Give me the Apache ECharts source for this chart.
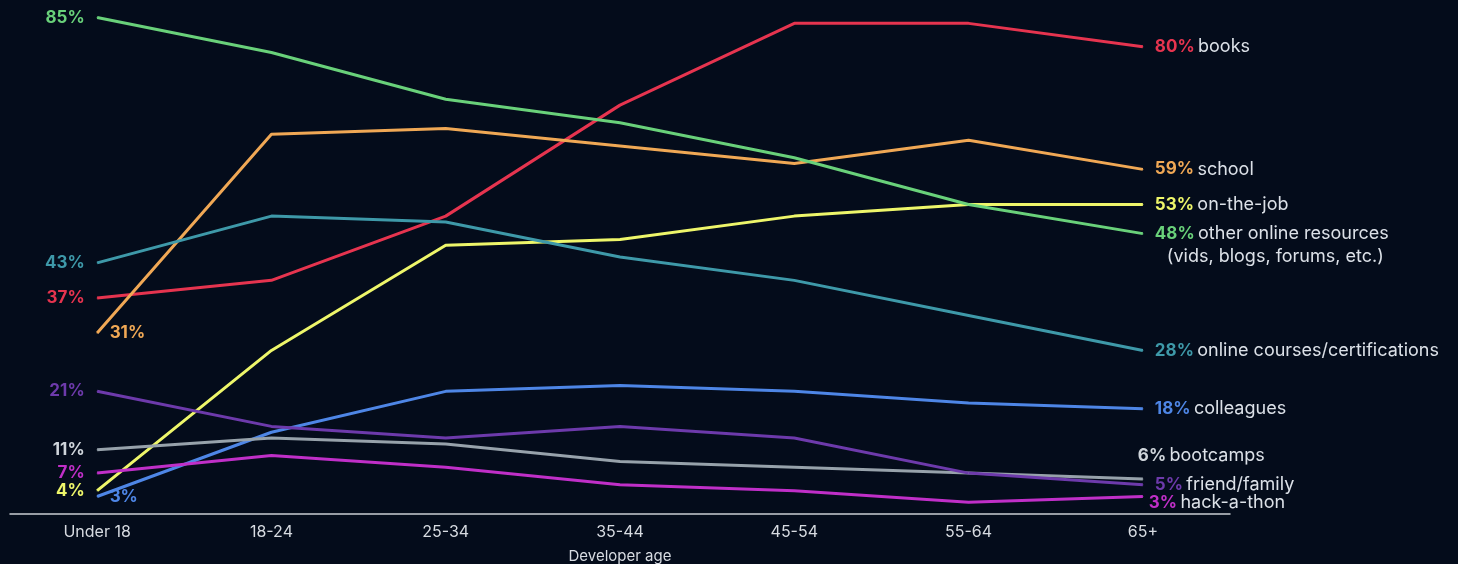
<!DOCTYPE html>
<html><head><meta charset="utf-8">
<script src="https://cdn.jsdelivr.net/npm/echarts@6/dist/echarts.min.js"></script>
<style>html,body{margin:0;padding:0;background:#040c1b;}#c{width:1458px;height:564px;}</style>
</head><body><div id="c"></div>
<script>
const categories = ['Under 18','18-24','25-34','35-44','45-54','55-64','65+'];
const seriesNames = ['books','school','on-the-job','other online resources','online courses/certifications','colleagues','bootcamps','friend/family','hack-a-thon'];
const books      = [37, 40, 51, 70, 84, 84, 80];
const school     = [31, 65, 66, 63, 60, 64, 59];
const onTheJob   = [4, 28, 46, 47, 51, 53, 53];
const otherOnline= [85, 79, 71, 67, 61, 53, 48];
const onlineCourses = [43, 51, 50, 44, 40, 34, 28];
const colleagues = [3, 14, 21, 22, 21, 19, 18];
const bootcamps  = [11, 13, 12, 9, 8, 7, 6];
const friendFamily = [21, 15, 13, 15, 13, 7, 5];
const hackathon  = [7, 10, 8, 5, 4, 2, 3];
const allValues = [books, school, onTheJob, otherOnline, onlineCourses, colleagues, bootcamps, friendFamily, hackathon];

const colors = ['#e6344f','#f0a855','#eef66a','#69d17a','#3e99a9','#4e86e6','#97a2ab','#6d3aab','#c02fc8'];
const labelColors = ['#e6344f','#f0a855','#eef66a','#69d17a','#3e99a9','#4e86e6','#cfd5db','#6d3aab','#c02fc8'];
const startPos = ['left','right','left','left','left','right','left','left','left'];
const endOffsets = [[0,0],[0,0],[0,0],[0,11.5],[0,0],[0,0],[-17,-23],[0,0],[-6,6]];
const FONT = 'Inter, "Noto Sans", sans-serif';
const nameColor = '#dce1e8';

const series = allValues.map((vals, i) => {
  const data = vals.map((v, j) => j === 0 ? {
    value: v,
    label: {
      show: true, position: startPos[i], distance: 12,
      formatter: v + '%', color: labelColors[i], fontWeight: 'bold', fontSize: 17, fontFamily: FONT
    }
  } : v);
  const name = seriesNames[i];
  return {
    type: 'line', name: name, data: data,
    showSymbol: true, symbol: 'circle', symbolSize: 1,
    itemStyle: { color: colors[i] },
    lineStyle: { color: colors[i], width: 3 },
    emphasis: { disabled: true },
    silent: true,
    endLabel: {
      show: true, distance: 12, offset: endOffsets[i],
      fontFamily: FONT,
      formatter: function (p) {
        let s = '{p|' + p.value + '%} {n|' + name + '}';
        if (name === 'other online resources') s += '\n{n2|(vids, blogs, forums, etc.)}';
        return s;
      },
      rich: {
        p: { color: labelColors[i], fontWeight: 'bold', fontSize: 17, fontFamily: FONT, lineHeight: 23 },
        n: { color: nameColor, fontSize: 18, fontFamily: FONT, lineHeight: 23 },
        n2: { color: nameColor, fontSize: 18, fontFamily: FONT, lineHeight: 23, padding: [0,0,0,12] }
      }
    }
  };
});

const chart = echarts.init(document.getElementById('c'));
chart.setOption({
  backgroundColor: '#040c1b',
  animation: false,
  grid: { left: 10, right: 228, top: 0, bottom: 50, containLabel: false, outerBoundsMode: 'none' },
  xAxis: {
    type: 'category', data: categories, boundaryGap: true,
    axisLine: { lineStyle: { color: '#c9cdd3', width: 1.5 } },
    axisTick: { show: false },
    axisLabel: { color: '#d7dbe1', fontSize: 16, fontFamily: FONT, margin: 10 },
    name: 'Developer age', nameLocation: 'middle', nameGap: 35,
    nameTextStyle: { color: '#d7dbe1', fontSize: 15, fontFamily: FONT }
  },
  yAxis: { type: 'value', min: 0, max: 88, show: false, splitLine: { show: false } },
  series: series
});
</script>
</body></html>
